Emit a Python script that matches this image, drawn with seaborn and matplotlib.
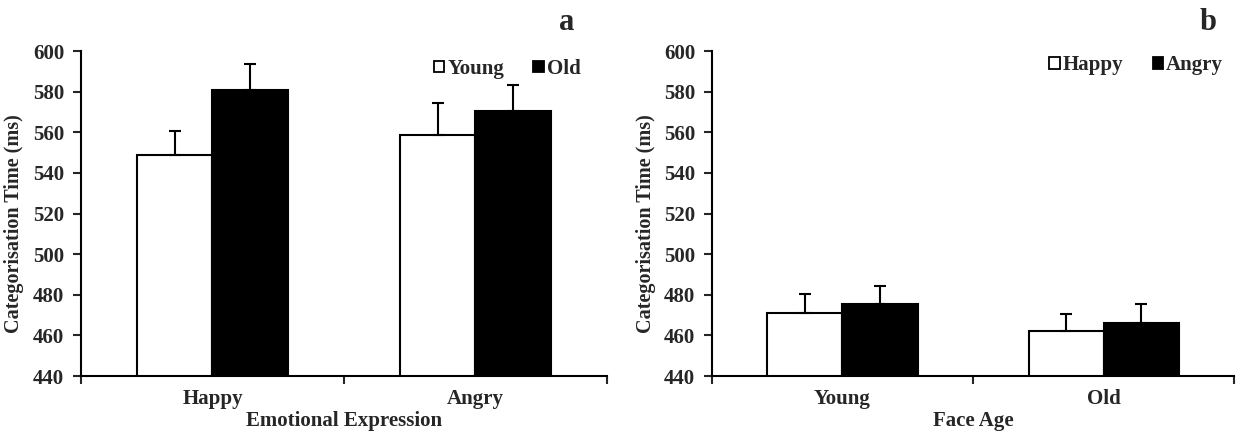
import numpy as np
import pandas as pd
import seaborn as sns
import matplotlib.pyplot as plt
from matplotlib.patches import Patch

# panel a: by emotional expression, hue = face age
expr_cats = ['Happy', 'Angry']
age_groups = ['Young', 'Old']
a_means = {'Young': [549.0, 558.5], 'Old': [581.0, 570.5]}
a_errs = {'Young': [11.5, 16.0], 'Old': [12.5, 13.0]}

# panel b: by face age, hue = expression
age_cats = ['Young', 'Old']
expr_groups = ['Happy', 'Angry']
b_means = {'Happy': [471.0, 462.0], 'Angry': [475.5, 466.0]}
b_errs = {'Happy': [9.5, 8.5], 'Angry': [9.0, 9.5]}

yticks = list(range(440, 601, 20))


def make_df(cats, groups, means, errs, xname, hname):
    rows = []
    for g in groups:
        for i, c in enumerate(cats):
            rows.append({xname: c, hname: g, 'rt': means[g][i], 'se': errs[g][i]})
    return pd.DataFrame(rows)


def draw_panel(ax, df, cats, groups, xname, hname, xlabel, letter, letter_x, leg_xy):
    sns.barplot(data=df, x=xname, y='rt', hue=hname, order=cats, hue_order=groups,
                palette=['white', 'black'], edgecolor='black', linewidth=1.5,
                width=0.575, errorbar=None, ax=ax, legend=False)
    # one sided error bars on top of each bar
    for k, g in enumerate(groups):
        cont = ax.containers[k]
        sub = df[df[hname] == g].set_index(xname).loc[cats]
        xs = [p.get_x() + p.get_width() / 2 for p in cont.patches]
        ys = sub['rt'].values
        ax.errorbar(xs, ys, yerr=[np.zeros(len(ys)), sub['se'].values], fmt='none',
                    ecolor='black', elinewidth=1.5, capsize=4, capthick=1.5)
    ax.set_ylim(440, 600)
    ax.set_xlim(-0.5, 1.5)
    ax.set_yticks(yticks)
    ax.set_xticks([-0.5, 0.5, 1.5], minor=True)
    ax.tick_params(axis='x', which='major', length=0, labelsize=15, pad=9)
    ax.tick_params(axis='x', which='minor', length=6, width=1.5, direction='out')
    ax.tick_params(axis='y', length=6, width=1.5, direction='out', labelsize=15, pad=6)
    for lab in ax.get_xticklabels() + ax.get_yticklabels():
        lab.set_fontweight('bold')
    ax.set_xlabel(xlabel, fontsize=15, fontweight='bold', labelpad=2)
    ax.set_ylabel('Categorisation Time (ms)', fontsize=14.5, fontweight='bold')
    ax.yaxis.set_label_coords(-0.108, 0.47)
    for s in ['top', 'right']:
        ax.spines[s].set_visible(False)
    for s in ['left', 'bottom']:
        ax.spines[s].set_linewidth(1.5)
        ax.spines[s].set_color('black')
    handles = [Patch(facecolor='white', edgecolor='black', linewidth=1.3),
               Patch(facecolor='black', edgecolor='black', linewidth=1.3)]
    ax.legend(handles, groups, ncol=2, frameon=False, loc='center right',
              bbox_to_anchor=leg_xy, handlelength=0.5, handleheight=0.5,
              handletextpad=0.15, columnspacing=1.4, borderpad=0, borderaxespad=0,
              prop={'family': 'Liberation Serif', 'weight': 'bold', 'size': 15})
    ax.text(letter_x, 1.065, letter, transform=ax.transAxes, fontsize=22,
            fontweight='bold', ha='center', va='baseline')


sns.set_style('ticks')
plt.rcParams['font.family'] = ['Liberation Serif', 'DejaVu Serif']

fig = plt.figure(figsize=(12.36, 4.36), dpi=100)
ax1 = fig.add_axes([0.0655, 0.1376, 0.4256, 0.7454])
ax2 = fig.add_axes([0.576, 0.1376, 0.4225, 0.7454])

df_a = make_df(expr_cats, age_groups, a_means, a_errs, 'Expression', 'Age')
df_b = make_df(age_cats, expr_groups, b_means, b_errs, 'Age', 'Expression')

draw_panel(ax1, df_a, expr_cats, age_groups, 'Expression', 'Age',
           'Emotional Expression', 'a', 0.924, (0.95, 0.945))
draw_panel(ax2, df_b, age_cats, expr_groups, 'Age', 'Expression',
           'Face Age', 'b', 0.95, (0.979, 0.957))

fig.savefig('out.png', dpi=100)
